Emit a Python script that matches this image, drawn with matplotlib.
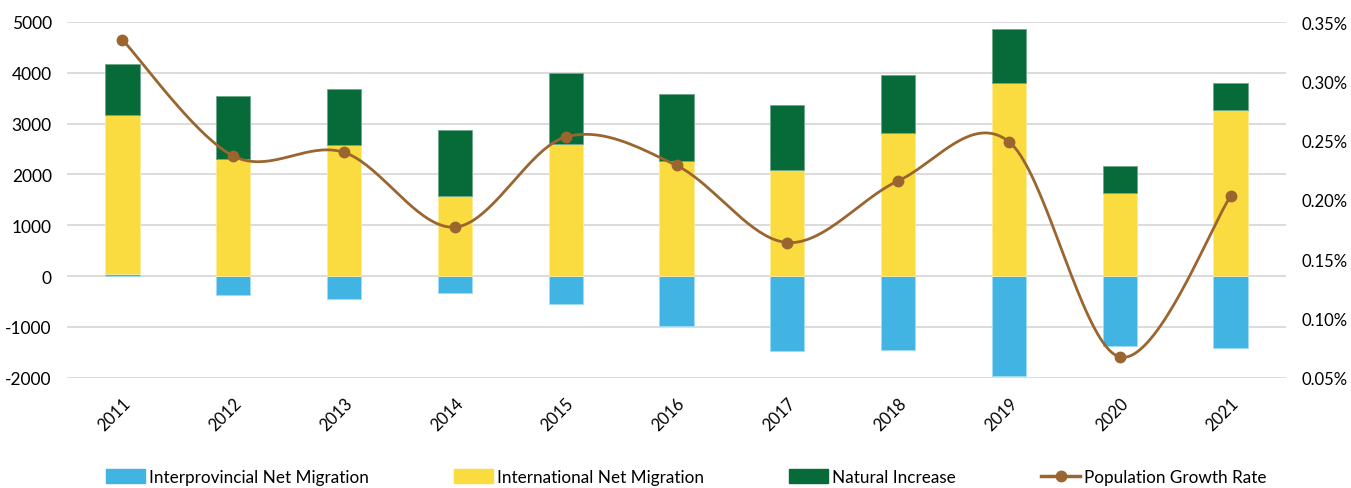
import numpy as np
import matplotlib
matplotlib.use('Agg')
import matplotlib.pyplot as plt
from matplotlib import font_manager
from matplotlib.lines import Line2D
from matplotlib.patches import Patch
from matplotlib.ticker import FuncFormatter

# ---------------- data ----------------
years = ['2011', '2012', '2013', '2014', '2015', '2016', '2017', '2018', '2019', '2020', '2021']
interprovincial = [45, -370, -460, -335, -545, -992, -1476, -1450, -1965, -1372, -1410]
international = [3115, 2303, 2579, 1567, 2604, 2264, 2087, 2815, 3791, 1640, 3268]
natural = [1013, 1240, 1108, 1313, 1392, 1319, 1279, 1147, 1071, 517, 523]
growth_rate = [0.335, 0.237, 0.240, 0.177, 0.253, 0.229, 0.164, 0.216, 0.249, 0.0675, 0.203]
left_ticks = [-2000, -1000, 0, 1000, 2000, 3000, 4000, 5000]
right_ticks = [0.05, 0.10, 0.15, 0.20, 0.25, 0.30, 0.35]
labels = ['Interprovincial Net Migration', 'International Net Migration',
          'Natural Increase', 'Population Growth Rate']

# ---------------- style ----------------
BLUE = '#42B4E4'
YELLOW = '#FADC40'
GREEN = '#066B38'
BROWN = '#9A652F'
GRID = '#D9D9D9'

names = {f.name for f in font_manager.fontManager.ttflist}
main_font = 'Lato' if 'Lato' in names else 'DejaVu Sans'
leg_font = 'Liberation Sans Narrow' if 'Liberation Sans Narrow' in names else main_font

W, H = 1351, 489
fig = plt.figure(figsize=(W / 100, H / 100), dpi=100)
x0, x1, ytop, ybot = 67, 1286, 23, 378.7
ax = fig.add_axes([x0 / W, 1 - ybot / H, (x1 - x0) / W, (ybot - ytop) / H])
ax2 = ax.twinx()

x = np.arange(len(years))
ip = np.array(interprovincial, float)
it = np.array(international, float)
nt = np.array(natural, float)
base_y = np.maximum(ip, 0)
base_g = base_y + it

bw = 0.31
ax.bar(x, ip, bw, color=BLUE, edgecolor='#9FDDF5', linewidth=0.6, zorder=2)
ax.bar(x, it, bw, bottom=base_y, color=YELLOW, edgecolor='#FCEB9A', linewidth=0.6, zorder=2)
ax.bar(x, nt, bw, bottom=base_g, color=GREEN, edgecolor='#6FA88A', linewidth=0.6, zorder=2)

ax.set_xlim(-0.5, len(years) - 0.5)
ax.set_ylim(-2000, 5000)
ax.set_yticks(left_ticks)
ax.set_yticklabels([str(v) for v in left_ticks])
ax.grid(axis='y', color=GRID, linewidth=1.3)
ax.set_axisbelow(True)
ax.set_xticks(x)
ax.set_xticklabels(years, rotation=45, ha='right', rotation_mode='anchor')
for s in ax.spines.values():
    s.set_visible(False)
for s in ax2.spines.values():
    s.set_visible(False)
ax.tick_params(axis='y', length=0, pad=11, labelsize=12.5, labelcolor='#000000')
ax.tick_params(axis='x', length=0, pad=12, labelsize=12, labelcolor='#000000')
for t in ax.get_xticklabels() + ax.get_yticklabels():
    t.set_fontfamily(main_font)

# smoothed line (Excel-like Bezier through points)
def smooth(xs, ys, n=40):
    P = np.column_stack([xs, ys]).astype(float)
    out = []
    for i in range(len(P) - 1):
        p0 = P[i - 1] if i > 0 else P[i]
        p3 = P[i + 2] if i + 2 < len(P) else P[i + 1]
        c1 = P[i] + (P[i + 1] - p0) / 6
        c2 = P[i + 1] - (p3 - P[i]) / 6
        t = np.linspace(0, 1, n)[:, None]
        seg = ((1 - t) ** 3) * P[i] + 3 * ((1 - t) ** 2) * t * c1 + 3 * (1 - t) * t ** 2 * c2 + t ** 3 * P[i + 1]
        out.append(seg if i == 0 else seg[1:])
    out = np.vstack(out)
    return out[:, 0], out[:, 1]

gr = np.array(growth_rate, float)
sx, sy = smooth(x, gr)
ax2.plot(sx, sy, color=BROWN, linewidth=2.0, zorder=3, solid_capstyle='round')
ax2.plot(x, gr, 'o', color=BROWN, markersize=7.5, zorder=4)
ax2.set_ylim(0.05, 0.35)
ax2.set_yticks(right_ticks)
ax2.yaxis.set_major_formatter(FuncFormatter(lambda v, p: f'{v:.2f}%'))
ax2.tick_params(axis='y', length=0, pad=11, labelsize=12, labelcolor='#000000')
for t in ax2.get_yticklabels():
    t.set_fontfamily(main_font)

handles = [Patch(facecolor=BLUE, edgecolor=BLUE),
           Patch(facecolor=YELLOW, edgecolor=YELLOW),
           Patch(facecolor=GREEN, edgecolor=GREEN),
           Line2D([0], [0], color=BROWN, linewidth=2.5, marker='o', markersize=7.5)]
fig.legend(handles, labels, loc='center left', bbox_to_anchor=(106 / W, 1 - 478 / H),
           ncol=4, frameon=False, borderpad=0, borderaxespad=0,
           handlelength=2.3, handleheight=0.85, handletextpad=0.2, columnspacing=5.0,
           prop={'family': leg_font, 'size': 12.3})

fig.savefig('out.png', dpi=100)
